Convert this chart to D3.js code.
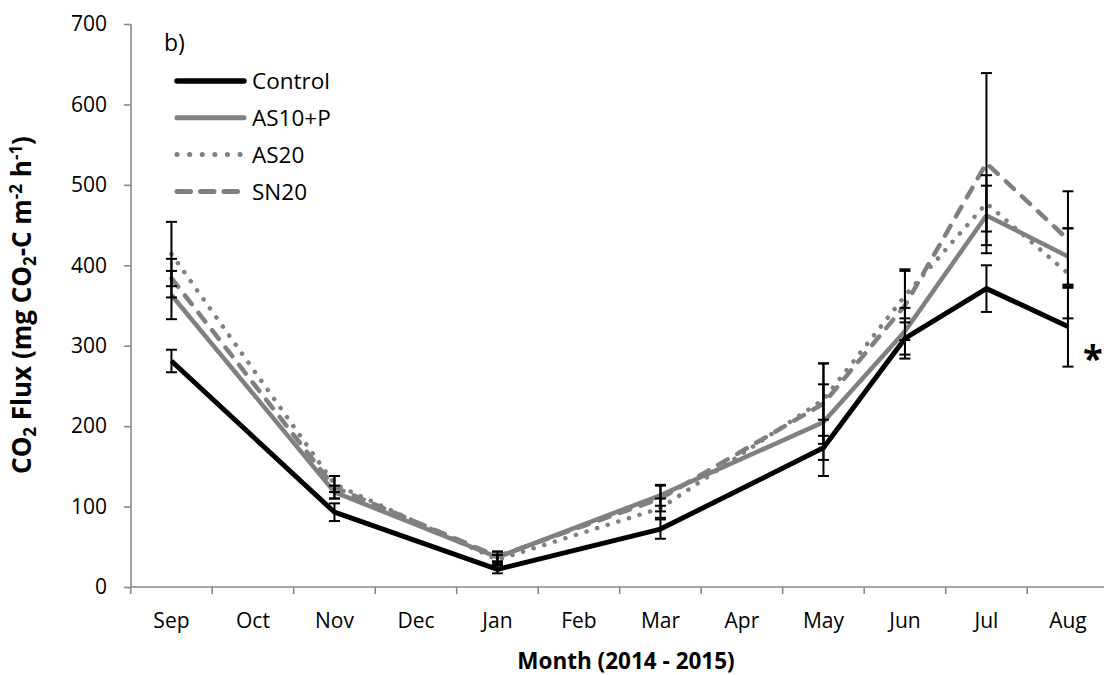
<!DOCTYPE html>
<html>
<head>
<meta charset="utf-8">
<script src="https://cdn.jsdelivr.net/npm/d3@7/dist/d3.min.js"></script>
<style>
  html, body { margin: 0; padding: 0; background: #fff; }
  svg { display: block; }
  text { font-family: "Open Sans", "DejaVu Sans", sans-serif; fill: #000; }
</style>
</head>
<body>
<svg id="chart" width="1104" height="675"></svg>
<script>
// ---- data ----
const months = ["Sep","Oct","Nov","Dec","Jan","Feb","Mar","Apr","May","Jun","Jul","Aug"];
const sampleMonths = ["Sep","Nov","Jan","Mar","May","Jun","Jul","Aug"];
const yTicks = [0,100,200,300,400,500,600,700];
const seriesNames = ["Control","AS10+P","AS20","SN20"];
const control    = [281, 93, 22, 72, 173, 309, 371, 324];
const controlErr = [14, 11, 5, 12, 35, 25, 29, 50];
const as10p      = [363, 118, 37, 114, 205, 318, 462, 411];
const as10pErr   = [30, 8, 7, 13, 47, 29, 37, 35];
const as20       = [414, 128, 34, 98, 233, 362, 477, 390];
const as20Err    = [40, 10, 6, 12, 45, 33, 35, 56];
const sn20       = [384, 124, 38, 110, 228, 350, 527, 432];
const sn20Err    = [24, 14, 6, 16, 50, 43, 112, 60];

const values = [control, as10p, as20, sn20];
const errors = [controlErr, as10pErr, as20Err, sn20Err];
const styles = [
  {color:"#000000", width:5,   dash:null,        cap:"butt"},
  {color:"#808080", width:4.5, dash:null,        cap:"butt"},
  {color:"#808080", width:4.5, dash:"0.1 11",    cap:"round"},
  {color:"#808080", width:4.5, dash:"11 11",     cap:"round"}
];

const svg = d3.select("#chart");
const x = d3.scaleBand().domain(months).range([130.7, 1108.7]).paddingInner(0).paddingOuter(0);
const y = d3.scaleLinear().domain([0,700]).range([587, 24]);
const cx = m => x(m) + x.bandwidth()/2;
const axisColor = "#898989";

// y axis
const yAxis = svg.append("g").attr("transform","translate(131,0)")
  .call(d3.axisLeft(y).tickValues(yTicks).tickSize(7).tickPadding(17).tickFormat(d3.format("d")));
yAxis.selectAll("path,line").attr("stroke", axisColor).attr("stroke-width", 1.6);
yAxis.select(".domain").attr("d", `M0,${y(700)}V${y(0)}`);
yAxis.selectAll("text").style("font-size","21px").style("font-family","Open Sans");

// x axis
const xAxis = svg.append("g").attr("transform","translate(0,587)")
  .call(d3.axisBottom(x).tickSize(0).tickPadding(26));
xAxis.select(".domain").attr("stroke", axisColor).attr("stroke-width", 1.6)
  .attr("d", `M${x.range()[0]},0H${x.range()[1]}`);
xAxis.selectAll("text").style("font-size","21px").style("font-family","Open Sans");
// boundary ticks
const bounds = months.map(m => x(m)).concat([x.range()[1]]);
xAxis.selectAll("line.bt").data(bounds).enter().append("line")
  .attr("class","bt").attr("x1", d=>d).attr("x2", d=>d).attr("y1",0).attr("y2",7)
  .attr("stroke", axisColor).attr("stroke-width",1.6);

// lines
const line = d3.line().x((d,i)=>cx(sampleMonths[i])).y(d=>y(d)).curve(d3.curveLinear);
values.forEach((vals, k) => {
  const s = styles[k];
  const p = svg.append("path").attr("d", line(vals)).attr("fill","none")
    .attr("stroke", s.color).attr("stroke-width", s.width)
    .attr("stroke-linejoin","round").attr("stroke-linecap", s.cap);
  if (s.dash) p.attr("stroke-dasharray", s.dash);
});

// error bars
const eb = svg.append("g").attr("stroke","#000").attr("stroke-width",2);
values.forEach((vals, k) => {
  vals.forEach((v, i) => {
    const e = errors[k][i];
    const px = cx(sampleMonths[i]);
    eb.append("line").attr("x1",px).attr("x2",px).attr("y1",y(v+e)).attr("y2",y(v-e));
    [v+e, v-e].forEach(t => {
      eb.append("line").attr("x1",px-5.5).attr("x2",px+5.5).attr("y1",y(t)).attr("y2",y(t));
    });
  });
});

// legend
const lg = svg.append("g");
seriesNames.forEach((n, k) => {
  const s = styles[k];
  const ly = 81 + k*36.8;
  const l = lg.append("line").attr("x1",177).attr("x2",244).attr("y1",ly).attr("y2",ly)
    .attr("stroke", s.color).attr("stroke-width", s.width + 0.5).attr("stroke-linecap", s.cap === "butt" ? "round" : s.cap);
  if (s.dash) l.attr("stroke-dasharray", s.dash === "0.1 11" ? "0.1 12.5" : "13.5 10");
  lg.append("text").attr("x",252).attr("y",ly).attr("dy","0.36em")
    .style("font-size","22.5px").text(n);
});

// panel label
svg.append("text").attr("x",164).attr("y",51).style("font-size","23px").text("b)");

// asterisk
svg.append("text").attr("x",1083).attr("y",371).style("font-size","36px").style("font-weight","bold").text("*");

// axis titles
svg.append("text").attr("x",626).attr("y",669).attr("text-anchor","middle")
  .style("font-size","22.5px").style("font-weight","bold").text("Month (2014 - 2015)");

const yt = svg.append("text").attr("transform","translate(31,305) rotate(-90)")
  .attr("text-anchor","middle").style("font-size","26px").style("font-weight","bold");
yt.append("tspan").text("CO");
yt.append("tspan").attr("dy",5).style("font-size","17px").text("2");
yt.append("tspan").attr("dy",-5).text(" Flux (mg CO");
yt.append("tspan").attr("dy",5).style("font-size","17px").text("2");
yt.append("tspan").attr("dy",-5).text("-C m");
yt.append("tspan").attr("dy",-9).style("font-size","17px").text("-2");
yt.append("tspan").attr("dy",9).text(" h");
yt.append("tspan").attr("dy",-9).style("font-size","17px").text("-1");
yt.append("tspan").attr("dy",9).text(")");
</script>
</body>
</html>
